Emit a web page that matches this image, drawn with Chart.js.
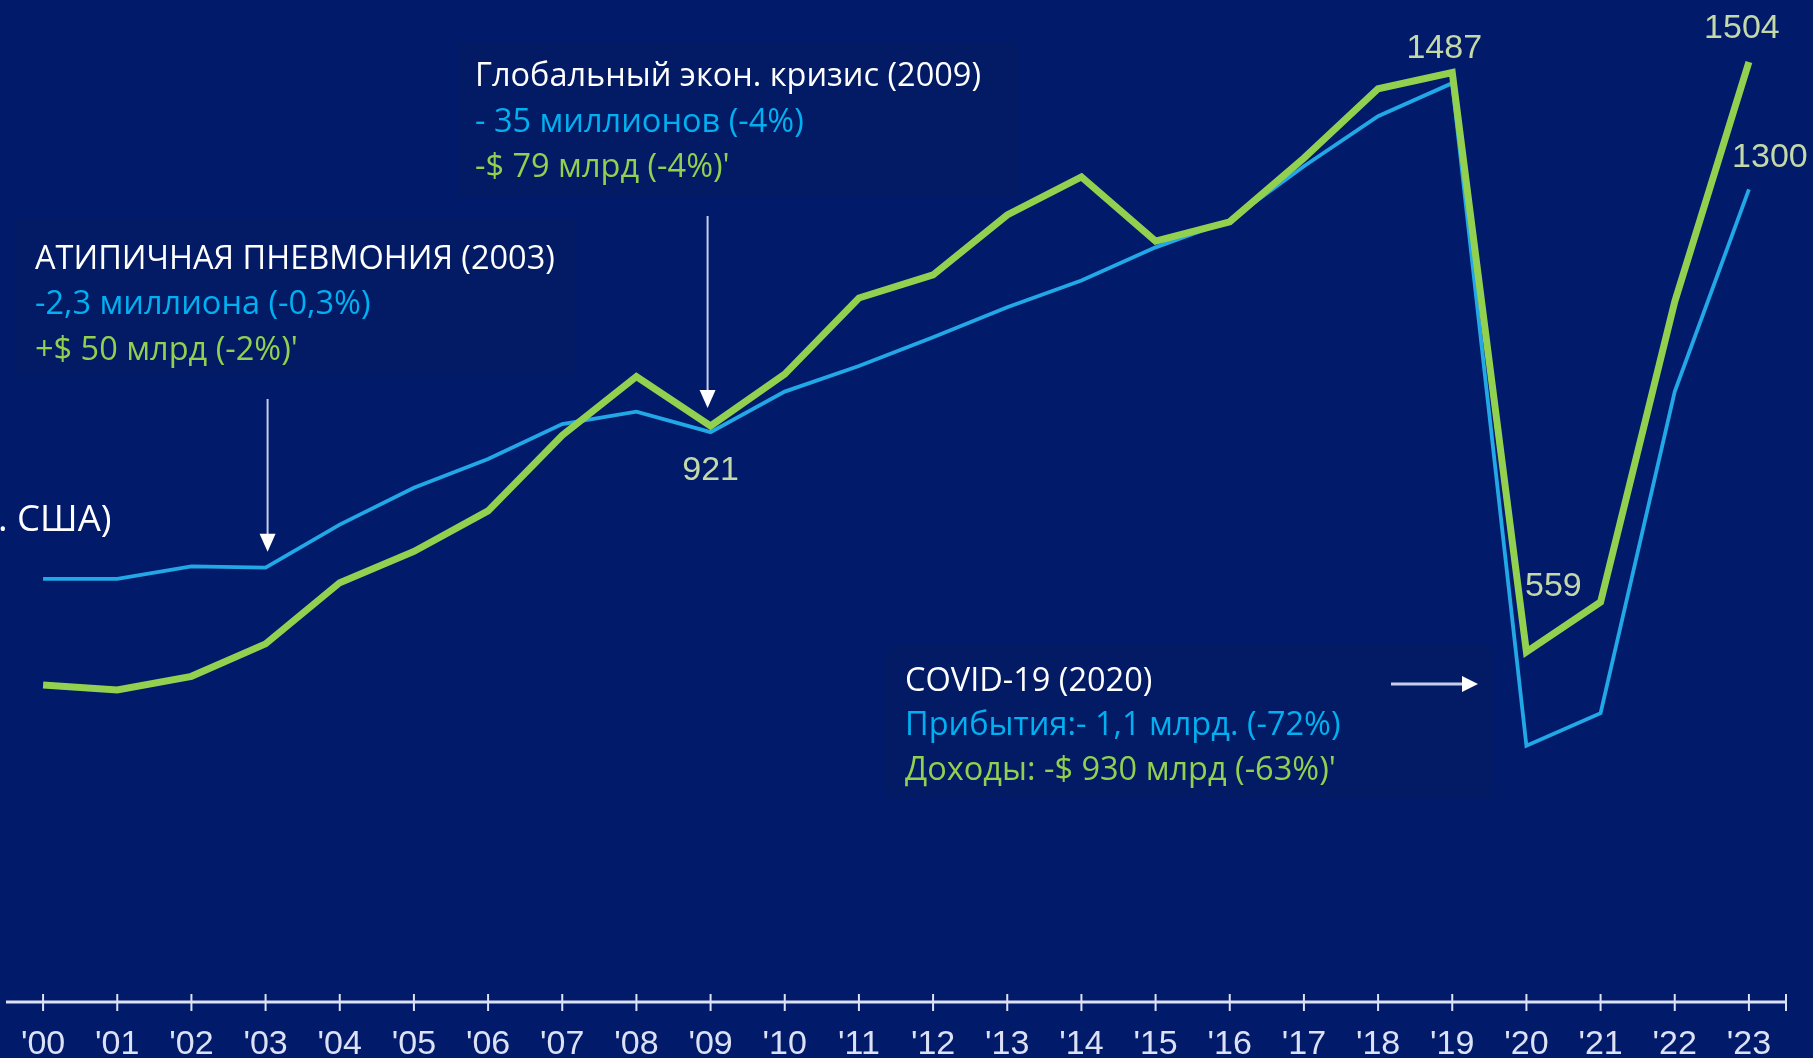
<!DOCTYPE html>
<html>
<head>
<meta charset="utf-8">
<script src="https://cdn.jsdelivr.net/npm/chart.js@4.4.1/dist/chart.umd.min.js"></script>
<style>
  html, body { margin: 0; padding: 0; background: #011a6a; overflow: hidden; }
  #wrap { position: relative; width: 1813px; height: 1058px; }
  canvas { display: block; }
</style>
</head>
<body>
<div id="wrap"><canvas id="c" width="1813" height="1058"></canvas></div>
<script>
// ---- data ----
const years = ["'00","'01","'02","'03","'04","'05","'06","'07","'08","'09","'10","'11","'12","'13","'14","'15","'16","'17","'18","'19","'20","'21","'22","'23"];
// International tourism receipts, US$ bn (green)
const receipts = [506, 498, 520, 572, 670, 720, 785, 906, 1000, 921, 1004, 1126, 1163, 1259, 1320, 1217, 1248, 1350, 1461, 1487, 559, 639, 1120, 1504];
// International tourist arrivals, millions (blue)
const arrivals = [676, 676, 696, 694, 763, 822, 868, 924, 944, 911, 976, 1017, 1063, 1111, 1154, 1207, 1250, 1337, 1417, 1470, 409, 461, 976, 1300];
// indexes whose values are written on the chart
const receiptLabelIdx = [9, 19, 20, 23];
const arrivalLabelIdx = [23];

const annotations = [
  { lines: [["АТИПИЧНАЯ ПНЕВМОНИЯ (2003)", "#ffffff"], ["-2,3 миллиона (-0,3%)", "#00b0f0"], ["+$ 50 млрд (-2%)'", "#92d050"]] },
  { lines: [["Глобальный экон. кризис (2009)", "#ffffff"], ["- 35 миллионов (-4%)", "#00b0f0"], ["-$ 79 млрд (-4%)'", "#92d050"]] },
  { lines: [["COVID-19 (2020)", "#ffffff"], ["Прибытия:- 1,1 млрд. (-72%)", "#00b0f0"], ["Доходы: -$ 930 млрд (-63%)'", "#92d050"]] }
];
const axisTitleFragment = ". США)";

// ---- styling / layout ----
const BG = '#011a6a';
const BOX = '#031a65';
const GREEN = '#92d050';
const BLUE = '#22a8e6';
const AXIS = '#dde1f5';
const VALUE_COLOR = '#c4d9a8';
const TEXT_FONT = '"Open Sans", "Noto Sans", sans-serif';

const boxes = [
  [15, 218, 560, 158],
  [458, 42, 560, 155],
  [885, 645, 497, 152],
  [1382, 645, 110, 152]
];
const annPos = [
  { x: 35, y: [269, 314, 360] },
  { x: 475, y: [86, 132, 177] },
  { x: 905, y: [691, 735, 780] }
];

const bgPlugin = {
  id: 'bg',
  beforeDraw(chart) {
    const ctx = chart.ctx;
    ctx.save();
    ctx.fillStyle = BG;
    ctx.fillRect(0, 0, chart.width, chart.height);
    ctx.fillStyle = BOX;
    boxes.forEach(b => ctx.fillRect(b[0], b[1], b[2], b[3]));
    ctx.restore();
  }
};

function arrowDown(ctx, x, y0, y1) {
  ctx.strokeStyle = '#c9cdea';
  ctx.lineWidth = 2;
  ctx.beginPath(); ctx.moveTo(x, y0); ctx.lineTo(x, y1 - 14); ctx.stroke();
  ctx.fillStyle = '#ffffff';
  ctx.beginPath(); ctx.moveTo(x - 8, y1 - 18); ctx.lineTo(x + 8, y1 - 18); ctx.lineTo(x, y1); ctx.closePath(); ctx.fill();
}
function arrowRight(ctx, x0, x1, y) {
  ctx.strokeStyle = '#c9cdea';
  ctx.lineWidth = 3;
  ctx.beginPath(); ctx.moveTo(x0, y); ctx.lineTo(x1 - 12, y); ctx.stroke();
  ctx.fillStyle = '#ffffff';
  ctx.beginPath(); ctx.moveTo(x1 - 16, y - 8); ctx.lineTo(x1 - 16, y + 8); ctx.lineTo(x1, y); ctx.closePath(); ctx.fill();
}

const overlayPlugin = {
  id: 'overlay',
  afterDatasetsDraw(chart) {
    const ctx = chart.ctx;
    const xs = chart.scales.x;
    const area = chart.chartArea;
    ctx.save();
    // x axis line with crossing ticks
    const ay = area.bottom + 1;
    ctx.strokeStyle = AXIS;
    ctx.lineWidth = 3;
    ctx.beginPath(); ctx.moveTo(area.left, ay); ctx.lineTo(area.right, ay); ctx.stroke();
    ctx.lineWidth = 2;
    const tickXs = years.map((_, i) => xs.getPixelForValue(i)).concat([area.right]);
    tickXs.forEach(tx => { ctx.beginPath(); ctx.moveTo(tx, ay - 8); ctx.lineTo(tx, ay + 9); ctx.stroke(); });

    // value labels
    ctx.font = '34px "Liberation Sans", Arial, sans-serif';
    ctx.fillStyle = VALUE_COLOR;
    ctx.textAlign = 'center';
    ctx.textBaseline = 'middle';
    const gMeta = chart.getDatasetMeta(0), bMeta = chart.getDatasetMeta(1);
    const gOff = { 9: [0, 45], 19: [-8, -24], 20: [27, -65], 23: [-7, -33] };
    receiptLabelIdx.forEach(i => {
      const p = gMeta.data[i];
      ctx.fillText(String(receipts[i]), p.x + gOff[i][0], p.y + gOff[i][1]);
    });
    arrivalLabelIdx.forEach(i => {
      const p = bMeta.data[i];
      ctx.fillText(String(arrivals[i]), p.x + 21, p.y - 32);
    });

    // arrows pointing at events
    const p03 = bMeta.data[3];
    arrowDown(ctx, p03.x + 2, 399, p03.y - 16);
    const p09 = gMeta.data[9];
    arrowDown(ctx, p09.x - 3, 216, p09.y - 18);
    arrowRight(ctx, 1391, 1478, 684);

    // annotation texts
    ctx.textAlign = 'left';
    ctx.textBaseline = 'alphabetic';
    ctx.font = '32.5px ' + TEXT_FONT;
    annotations.forEach((a, k) => {
      a.lines.forEach((ln, j) => {
        ctx.fillStyle = ln[1];
        ctx.fillText(ln[0], annPos[k].x, annPos[k].y[j]);
      });
    });
    ctx.font = '36.5px ' + TEXT_FONT;
    ctx.fillStyle = '#ffffff';
    ctx.fillText(axisTitleFragment, -2, 531);
    ctx.restore();
  }
};

new Chart(document.getElementById('c'), {
  type: 'line',
  data: {
    labels: years,
    datasets: [
      { label: 'Доходы', data: receipts, borderColor: GREEN, borderWidth: 7, pointRadius: 0, pointHoverRadius: 0, tension: 0, borderJoinStyle: 'miter', order: 0, fill: false },
      { label: 'Прибытия', data: arrivals, borderColor: BLUE, borderWidth: 3.8, pointRadius: 0, pointHoverRadius: 0, tension: 0, borderJoinStyle: 'miter', order: 1, fill: false }
    ]
  },
  options: {
    responsive: false,
    devicePixelRatio: 1,
    animation: false,
    events: [],
    layout: { padding: { left: 6, right: 27, top: 2, bottom: 0 } },
    plugins: { legend: { display: false }, tooltip: { enabled: false } },
    scales: {
      x: {
        offset: true,
        grid: { display: false, drawTicks: false },
        border: { display: false },
        afterFit(scale) { scale.height = 57; scale.paddingLeft = 0; scale.paddingRight = 0; },
        ticks: {
          autoSkip: false, maxRotation: 0, minRotation: 0,
          color: AXIS,
          padding: 27,
          font: { family: '"Liberation Sans", Arial, sans-serif', size: 34, lineHeight: 1 }
        }
      },
      y: { display: false, min: 0, max: 1600 }
    }
  },
  plugins: [bgPlugin, overlayPlugin]
});
</script>
</body>
</html>
